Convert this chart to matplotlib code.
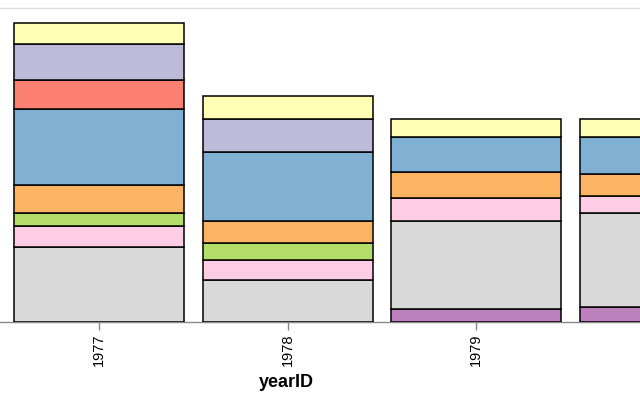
import matplotlib
matplotlib.use('Agg')  # Use non-interactive backend
import matplotlib.pyplot as plt
import numpy as np

# Categories on the x axis
years = ['1977', '1978', '1979', '1980']

# Stacked series, listed bottom to top
series_names = ['g9', 'g8', 'g7', 'g6', 'g5', 'g4', 'g3', 'g2', 'g1']
g9 = [0.00, 0.00, 1.30, 1.50]
g8 = [7.62, 4.29, 9.01, 9.59]
g7 = [2.21, 2.01, 2.37, 1.77]
g6 = [1.26, 1.79, 0.00, 0.00]
g5 = [2.89, 2.22, 2.63, 2.24]
g4 = [7.72, 7.01, 3.57, 3.78]
g3 = [2.99, 0.00, 0.00, 0.00]
g2 = [3.65, 3.36, 0.00, 0.00]
g1 = [2.17, 2.41, 1.80, 1.80]
series_values = [g9, g8, g7, g6, g5, g4, g3, g2, g1]

# Set3 colours matching the stack order above
colors = ['#bc80bd', '#d9d9d9', '#fccde5', '#b3de69', '#fdb462',
          '#80b1d3', '#fb8072', '#bebada', '#ffffb3']

plt.rcParams['font.family'] = ['Liberation Sans', 'DejaVu Sans']

fig = plt.figure(figsize=(6.4, 4.0), dpi=100)
ax = fig.add_axes([0.0, 0.195, 1.0, 0.785])

x = np.arange(len(years))
bottom = np.zeros(len(years))
for vals, col in zip(series_values, colors):
    vals = np.array(vals)
    mask = vals > 0
    ax.bar(x[mask], vals[mask], width=0.9, bottom=bottom[mask],
           color=col, edgecolor='black', linewidth=1.1, zorder=3)
    bottom += vals

ax.set_yticks([0, 10, 20, 30])
ax.yaxis.set_visible(False)
ax.grid(axis='y', color='#dddddd', linewidth=1.0, zorder=0)

ax.set_xticks(x)
ax.set_xticklabels(years, rotation=90, fontsize=10.5)
ax.tick_params(axis='x', length=6, width=1, color='#888888', pad=2)

# limits after the ticks, since set_xticks widens the view
ax.set_xlim(-0.525, 2.868)
ax.set_ylim(0, 32.04)

for side in ['left', 'right']:
    ax.spines[side].set_visible(False)
ax.spines['top'].set_color('#dddddd')
ax.spines['top'].set_linewidth(1.0)
ax.spines['bottom'].set_color('#888888')
ax.spines['bottom'].set_linewidth(1.0)

ax.set_xlabel('yearID', fontsize=13, fontweight='bold')
ax.xaxis.set_label_coords(0.448, -0.165)

fig.savefig('out.png', dpi=100)
